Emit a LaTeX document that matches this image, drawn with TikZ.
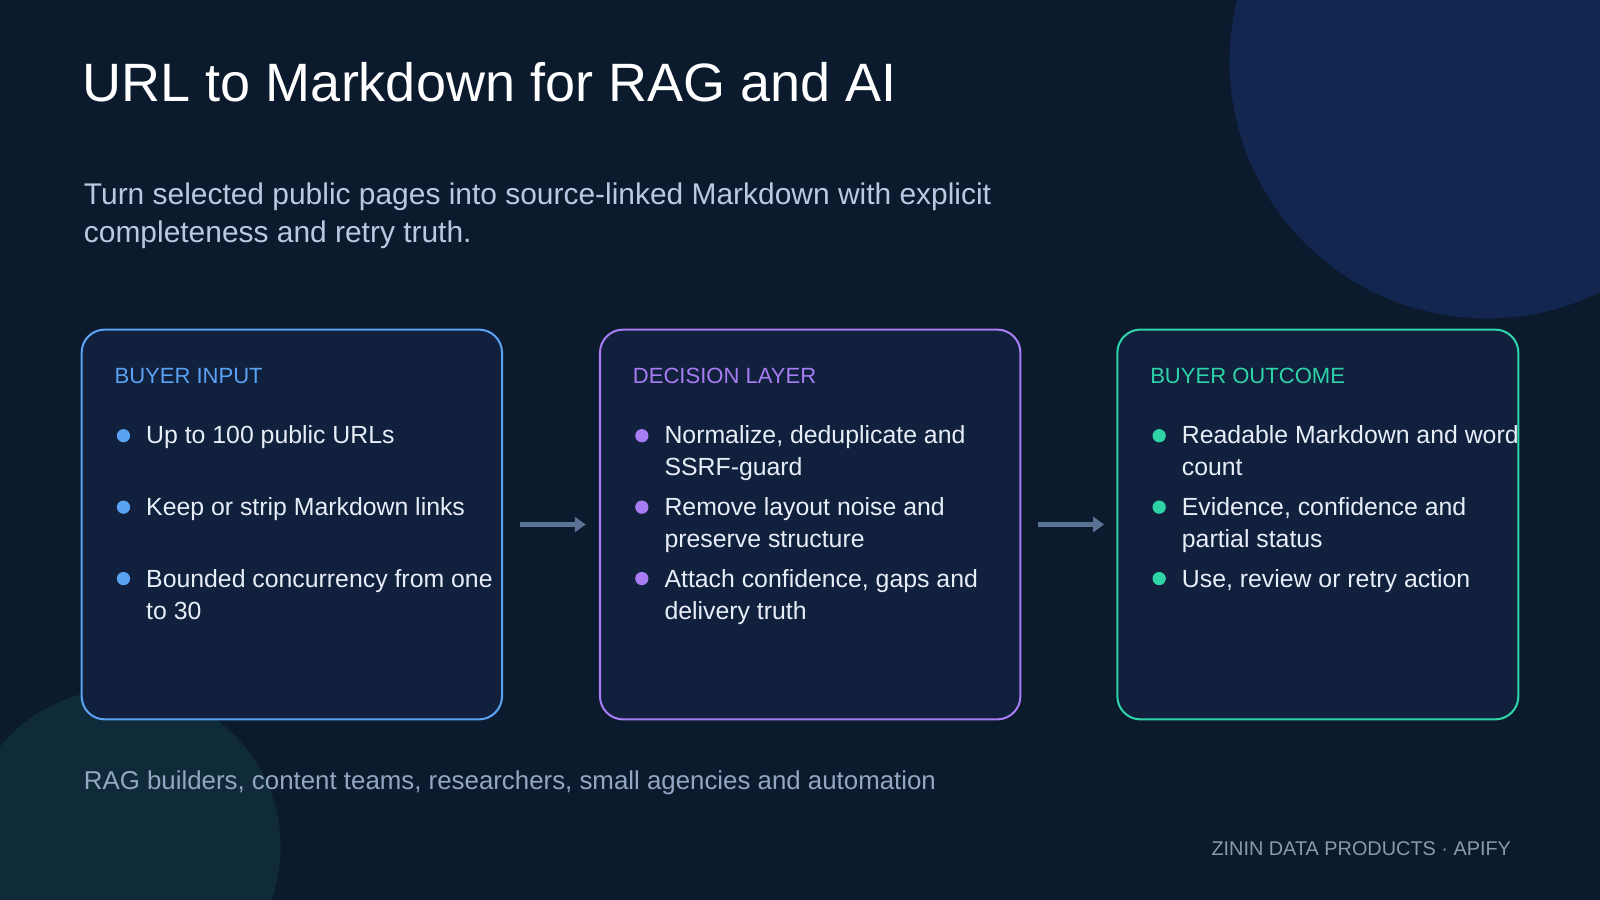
\documentclass[tikz,border=0pt]{standalone}
\usepackage{fontspec}
\setmainfont{Liberation Sans}
\usetikzlibrary{arrows.meta}
\definecolor{bg}{HTML}{0C1A2E}
\definecolor{circA}{HTML}{13264F}
\definecolor{circB}{HTML}{0F2A38}
\definecolor{boxfill}{HTML}{10203D}
\definecolor{cblue}{HTML}{5AA2F2}
\definecolor{cpurple}{HTML}{A87CF2}
\definecolor{cteal}{HTML}{2ED3A8}
\definecolor{subt}{HTML}{B9C9E2}
\definecolor{body}{HTML}{E8EEF8}
\definecolor{foot}{HTML}{93A6C2}
\definecolor{brand}{HTML}{8C99AB}
\definecolor{arr}{HTML}{5A7294}
\begin{document}
\begin{tikzpicture}[x=0.75pt,y=-0.75pt,
  card/.style={rounded corners=17pt,line width=1.5pt,fill=boxfill},
  hdr/.style={anchor=base west,inner sep=0pt,font=\fontsize{16.2}{19}\selectfont},
  txt/.style={anchor=north west,inner sep=0pt,text=body,font=\fontsize{18.25}{23.5}\selectfont,align=left},
  flow/.style={draw=arr,line width=3pt,-{Triangle[length=8pt,width=11pt]}}]
\useasboundingbox (0,0) rectangle (1568,882);
\fill[bg] (0,0) rectangle (1568,882);
\begin{scope}
\clip (0,0) rectangle (1568,882);
\fill[circA] (1457,60) circle (252);
\fill[circB] (120,830) circle (155);
\end{scope}
\node[anchor=base west,inner sep=0pt,text=white,font=\fontsize{39.7}{46}\selectfont] (title) at (81,99) {URL to Markdown for RAG and AI};
\node[anchor=north west,inner sep=0pt,text=subt,font=\fontsize{22}{28}\selectfont,align=left] (sub) at (82,179) {Turn selected public pages into source-linked Markdown with explicit\\completeness and retry truth.};
% cards
\draw[card,draw=cblue] (80,323) rectangle (492,705);
\draw[card,draw=cpurple] (588,323) rectangle (1000,705);
\draw[card,draw=cteal] (1095,323) rectangle (1488,705);
\node[hdr,text=cblue] (h1) at (112,376) {BUYER INPUT};
\node[hdr,text=cpurple] (h2) at (620,376) {DECISION LAYER};
\node[hdr,text=cteal] (h3) at (1127,376) {BUYER OUTCOME};
% bullets
\foreach \y in {427,497,567} {\fill[cblue] (121,\y) circle (6.5);}
\foreach \y in {427,497,567} {\fill[cpurple] (629,\y) circle (6.5);}
\foreach \y in {427,497,567} {\fill[cteal] (1136,\y) circle (6.5);}
\node[txt] (a1) at (143,417) {Up to 100 public URLs};
\node[txt] (a2) at (143,487) {Keep or strip Markdown links};
\node[txt] (a3) at (143,558) {Bounded concurrency from one\\to 30};
\node[txt] (b1) at (651,417) {Normalize, deduplicate and\\SSRF-guard};
\node[txt] (b2) at (651,487) {Remove layout noise and\\preserve structure};
\node[txt] (b3) at (651,558) {Attach confidence, gaps and\\delivery truth};
\node[txt] (d1) at (1158,417) {Readable Markdown and word\\count};
\node[txt] (d2) at (1158,487) {Evidence, confidence and\\partial status};
\node[txt] (d3) at (1158,558) {Use, review or retry action};
% arrows
\coordinate (p1) at (510,514); \coordinate (q1) at (574,514);
\coordinate (p2) at (1017,514); \coordinate (q2) at (1082,514);
\draw[flow] (p1) -- (q1);
\draw[flow] (p2) -- (q2);
\node[anchor=base west,inner sep=0pt,text=foot,font=\fontsize{19}{22}\selectfont] (ft) at (82,774) {RAG builders, content teams, researchers, small agencies and automation};
\node[anchor=base east,inner sep=0pt,text=brand,font=\fontsize{14.6}{17}\selectfont] (br) at (1481,838) {ZININ DATA PRODUCTS · APIFY};
\end{tikzpicture}
\end{document}
